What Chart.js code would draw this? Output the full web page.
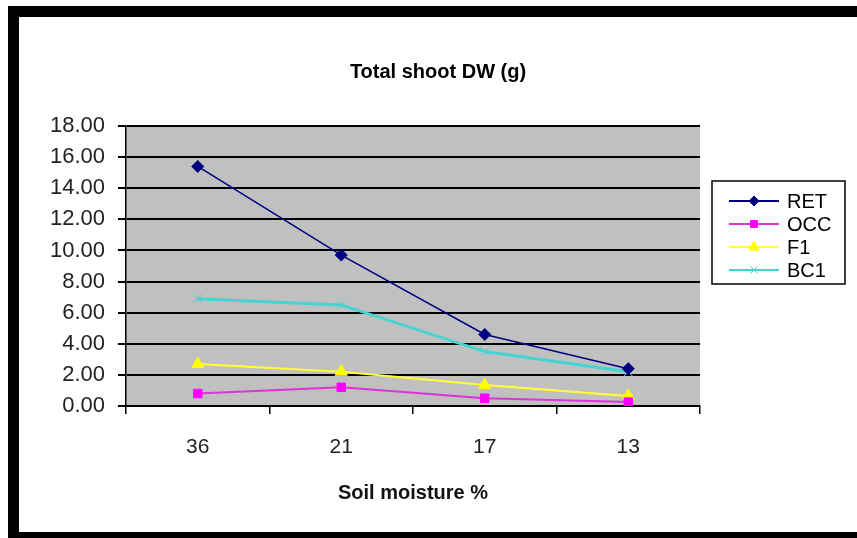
<!DOCTYPE html>
<html>
<head>
<meta charset="utf-8">
<script src="https://cdn.jsdelivr.net/npm/chart.js@4.4.1/dist/chart.umd.min.js"></script>
<style>
  html, body { margin: 0; padding: 0; background: #fff; }
  #frame {
    position: absolute; left: 8px; top: 6px;
    width: 838px; height: 515px;
    border-left: 11px solid #000; border-top: 11px solid #000; border-bottom: 6px solid #000;
    background: #fff;
  }
  #myChart { display: block; }
</style>
</head>
<body>
<div id="frame"><canvas id="myChart" width="838" height="515"></canvas></div>
<script>
// dados
var umidade = ['36', '21', '17', '13'];
var ret = [15.4, 9.7, 4.6, 2.4];
var occ = [0.8, 1.2, 0.5, 0.25];
var f1 = [2.7, 2.2, 1.35, 0.65];
var bc1 = [6.9, 6.5, 3.5, 2.2];
var yTicks = [0, 2, 4, 6, 8, 10, 12, 14, 16, 18];
var titulo = 'Total shoot DW (g)';

var fonte = "'Liberation Sans', Arial, sans-serif";

// fundo cinza da area do grafico + titulo centrado no canvas inteiro
var fundoCinza = {
  id: 'fundoCinza',
  beforeDraw: function (chart) {
    var a = chart.chartArea;
    var ctx = chart.ctx;
    ctx.save();
    ctx.fillStyle = '#c0c0c0';
    ctx.fillRect(a.left, a.top, a.right - a.left, a.bottom - a.top);
    ctx.fillStyle = '#000';
    ctx.font = 'bold 20px ' + fonte;
    ctx.textAlign = 'center';
    ctx.textBaseline = 'middle';
    ctx.fillText(titulo, chart.width / 2, 55);
    ctx.restore();
  }
};

// legenda no estilo do Excel (linha com marcador)
var legendaExcel = {
  id: 'legendaExcel',
  afterDraw: function (chart) {
    var ctx = chart.ctx;
    var box = { x: 693, y: 164, w: 133, h: 103 };
    ctx.save();
    ctx.fillStyle = '#fff';
    ctx.fillRect(box.x, box.y, box.w, box.h);
    ctx.strokeStyle = '#000';
    ctx.lineWidth = 1.5;
    ctx.strokeRect(box.x, box.y, box.w, box.h);
    ctx.font = '20px ' + fonte;
    ctx.textBaseline = 'middle';
    chart.data.datasets.forEach(function (ds, i) {
      var y = box.y + 20 + i * 23;
      var x0 = box.x + 17;
      ctx.strokeStyle = ds.borderColor;
      ctx.lineWidth = 2;
      ctx.beginPath();
      ctx.moveTo(x0, y);
      ctx.lineTo(x0 + 50, y);
      ctx.stroke();
      ctx.fillStyle = ds.pointBackgroundColor;
      ctx.strokeStyle = ds.pointBorderColor;
      ctx.lineWidth = 1;
      Chart.helpers.drawPoint(ctx, {
        pointStyle: ds.pointStyle,
        radius: ds.pointRadius - 1,
        borderWidth: 1
      }, x0 + 25, y);
      ctx.fillStyle = '#000';
      ctx.fillText(ds.label, x0 + 58, y + 1);
    });
    ctx.restore();
  }
};

function serie(label, data, cor, corLinha, estilo, raio, largura) {
  return {
    label: label,
    data: data,
    borderColor: corLinha,
    backgroundColor: cor,
    pointBackgroundColor: cor,
    pointBorderColor: cor,
    pointStyle: estilo,
    pointRadius: raio,
    pointBorderWidth: 1,
    borderWidth: largura,
    fill: false,
    tension: 0
  };
}

var ctx = document.getElementById('myChart');

new Chart(ctx, {
  type: 'line',
  data: {
    labels: umidade,
    datasets: [
      serie('RET', ret, '#000080', '#000080', 'rectRot', 6, 1.5),
      serie('OCC', occ, '#ff00ff', '#dd33dd', 'rect', 6, 2),
      serie('F1', f1, '#ffff00', '#ffff33', 'triangle', 7, 2),
      serie('BC1', bc1, '#44d4d4', '#44d4d4', 'crossRot', 6, 3)
    ]
  },
  plugins: [fundoCinza, legendaExcel],
  options: {
    responsive: false,
    animation: false,
    layout: { padding: { left: 0, right: 157, top: 109, bottom: 0 } },
    plugins: {
      legend: { display: false },
      tooltip: { enabled: false },
      title: { display: false }
    },
    scales: {
      x: {
        offset: true,
        grid: { offset: true, drawOnChartArea: false, color: '#000', lineWidth: 1.5, tickLength: 8, tickColor: '#000' },
        border: { color: '#000', width: 1.5 },
        ticks: { color: '#222', font: { family: fonte, size: 21 }, padding: 21 },
        title: {
          display: true,
          text: 'Soil moisture %',
          color: '#111',
          font: { family: fonte, size: 20, weight: 'bold' },
          padding: { top: 4, bottom: 27 }
        },
        afterFit: function (s) { s.height = 126; }
      },
      y: {
        min: 0,
        max: 18,
        afterBuildTicks: function (s) { s.ticks = yTicks.map(function (v) { return { value: v }; }); },
        grid: { color: '#000', lineWidth: 2, tickLength: 8, tickColor: '#000' },
        border: { color: '#000', width: 1.5 },
        ticks: {
          color: '#222',
          font: { family: fonte, size: 22 },
          padding: 13,
          callback: function (v) { return Number(v).toFixed(2); }
        },
        afterFit: function (s) { s.width = 107; }
      }
    }
  }
});
</script>
</body>
</html>
